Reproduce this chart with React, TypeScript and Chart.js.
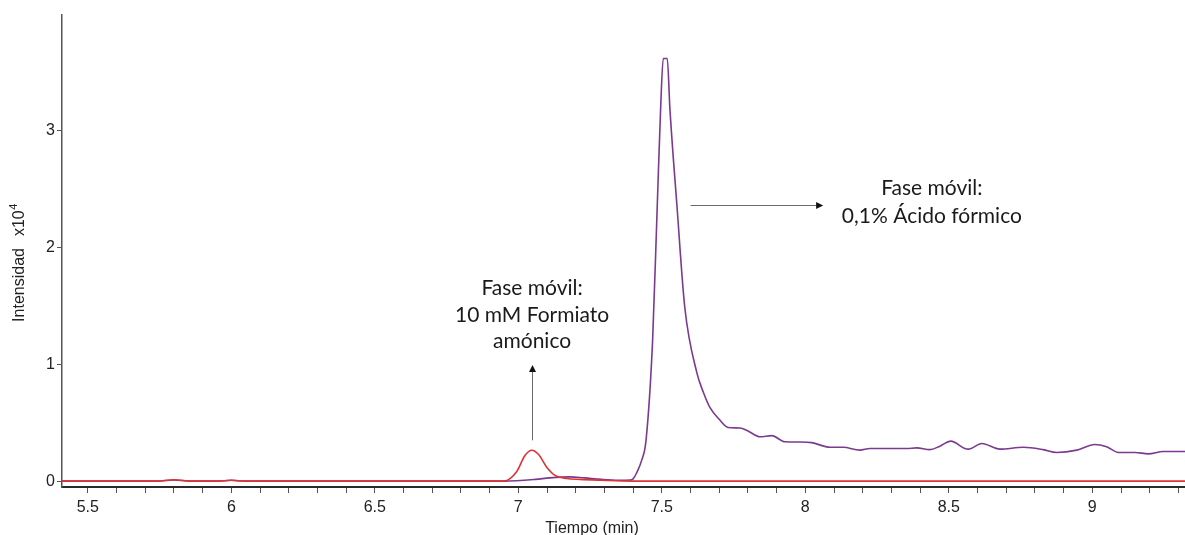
import React, { useEffect, useRef } from 'react';
import { Chart, registerables } from 'chart.js';

Chart.register(...registerables);

// ---- axis ranges ----
const X_MIN = 5.41;
const X_MAX = 9.323;
const Y_MIN = -0.05;
const Y_MAX = 3.993;

// ---- series: 0,1% Ácido fórmico (purple) ----
const purpleTime = [
  5.41, 5.74, 5.8, 5.86, 5.95, 6.0, 6.05, 6.95, 7.06, 7.11, 7.18, 7.23, 7.29, 7.35, 7.39,
  7.4, 7.412, 7.43, 7.445, 7.468, 7.484, 7.496, 7.505, 7.519, 7.528, 7.553, 7.58,
  7.622, 7.645, 7.668, 7.7, 7.731, 7.772, 7.8, 7.842, 7.883, 7.929, 7.98, 8.022, 8.086,
  8.132, 8.19, 8.225, 8.353, 8.388, 8.434, 8.469, 8.507, 8.556, 8.568, 8.615, 8.678,
  8.76, 8.829, 8.876, 8.946, 9.009, 9.05, 9.091, 9.149, 9.195, 9.247, 9.323,
];
const purpleValue = [
  0, 0, 0.01, 0, 0, 0.008, 0, 0, 0.015, 0.028, 0.037, 0.028, 0.015, 0.008, 0.01,
  0.02, 0.07, 0.18, 0.35, 1.21, 2.35, 3.2, 3.62, 3.62, 3.2, 2.35, 1.49,
  0.93, 0.76, 0.63, 0.53, 0.46, 0.455, 0.43, 0.38, 0.39, 0.337, 0.335, 0.33, 0.29,
  0.29, 0.266, 0.28, 0.28, 0.285, 0.27, 0.3, 0.343, 0.28, 0.274, 0.323, 0.274,
  0.29, 0.27, 0.246, 0.266, 0.314, 0.294, 0.246, 0.246, 0.234, 0.254, 0.254,
];

// ---- series: 10 mM Formiato amónico (red) ----
const redTime = [
  5.41, 5.74, 5.8, 5.86, 5.95, 6.0, 6.05, 6.95, 6.994, 7.023, 7.047, 7.07, 7.099, 7.128,
  7.169, 7.215, 7.285, 7.4, 9.323,
];
const redValue = [
  0, 0, 0.012, 0, 0, 0.008, 0, 0, 0.08, 0.22, 0.265, 0.23, 0.12, 0.05,
  0.023, 0.015, 0.008, 0, 0,
];

// ---- ticks ----
const xTickValues = [
  5.5, 5.6, 5.7, 5.8, 5.9, 6.0, 6.1, 6.2, 6.3, 6.4, 6.5, 6.6, 6.7, 6.8, 6.9, 7.0, 7.1, 7.2,
  7.3, 7.4, 7.5, 7.6, 7.7, 7.8, 7.9, 8.0, 8.1, 8.2, 8.3, 8.4, 8.5, 8.6, 8.7, 8.8, 8.9, 9.0,
  9.1, 9.2, 9.3,
];
const xLabelValues = [5.5, 6, 6.5, 7, 7.5, 8, 8.5, 9];
const xLabelTexts = ['5.5', '6', '6.5', '7', '7.5', '8', '8.5', '9'];
const yTickValues = [0, 1, 2, 3];
const yTickTexts = ['0', '1', '2', '3'];

// ---- texts ----
const xTitle = 'Tiempo (min)';
const yTitleMain = 'Intensidad';
const yTitleUnit = 'x10';
const yTitleExp = '4';
const annot1Lines = ['Fase móvil:', '10 mM Formiato', 'amónico'];
const annot1LineValues = [1.655, 1.425, 1.195];
const annot1X = 7.048;
const annot1Arrow = [0.35, 0.995]; // from, to (y values)
const annot2Lines = ['Fase móvil:', '0,1% Ácido fórmico'];
const annot2LineValues = [2.51, 2.27];
const annot2X = 8.441;
const annot2Arrow = [7.6, 8.062]; // from, to (x values)
const annot2ArrowY = 2.365;

const TICK_FONT = 'Liberation Sans, Arial, sans-serif';
const NOTE_FONT = 'Lato, "Open Sans", sans-serif';

const toPoints = (t: number[], v: number[]) => t.map((x, i) => ({ x, y: v[i] }));

const drawArrowHead = (ctx: CanvasRenderingContext2D, x: number, y: number, dir: 'up' | 'right') => {
  ctx.beginPath();
  if (dir === 'up') {
    ctx.moveTo(x, y);
    ctx.lineTo(x - 3.5, y + 7);
    ctx.lineTo(x + 3.5, y + 7);
  } else {
    ctx.moveTo(x, y);
    ctx.lineTo(x - 7, y - 3.5);
    ctx.lineTo(x - 7, y + 3.5);
  }
  ctx.closePath();
  ctx.fill();
};

const annotationPlugin = {
  id: 'annotations',
  afterDraw(chart: any) {
    const { ctx, scales } = chart;
    const x = scales.x;
    const y = scales.y;
    ctx.save();

    // arrows
    ctx.strokeStyle = '#6b6b6b';
    ctx.fillStyle = '#111';
    ctx.lineWidth = 1;
    const a1x = Math.round(x.getPixelForValue(annot1X)) + 0.5;
    const a1y0 = y.getPixelForValue(annot1Arrow[0]);
    const a1y1 = y.getPixelForValue(annot1Arrow[1]);
    ctx.beginPath();
    ctx.moveTo(a1x, a1y0);
    ctx.lineTo(a1x, a1y1 + 6);
    ctx.stroke();
    drawArrowHead(ctx, a1x, a1y1, 'up');

    const a2y = Math.round(y.getPixelForValue(annot2ArrowY)) + 0.5;
    const a2x0 = x.getPixelForValue(annot2Arrow[0]);
    const a2x1 = x.getPixelForValue(annot2Arrow[1]);
    ctx.beginPath();
    ctx.moveTo(a2x0, a2y);
    ctx.lineTo(a2x1 - 6, a2y);
    ctx.stroke();
    drawArrowHead(ctx, a2x1, a2y, 'right');

    // annotation texts
    ctx.fillStyle = '#1a1a1a';
    ctx.font = `21px ${NOTE_FONT}`;
    ctx.textAlign = 'center';
    ctx.textBaseline = 'middle';
    annot1Lines.forEach((s, i) => {
      ctx.fillText(s, x.getPixelForValue(annot1X), y.getPixelForValue(annot1LineValues[i]));
    });
    annot2Lines.forEach((s, i) => {
      ctx.fillText(s, x.getPixelForValue(annot2X), y.getPixelForValue(annot2LineValues[i]));
    });

    // x title
    ctx.fillStyle = '#222';
    ctx.font = `16px ${TICK_FONT}`;
    ctx.fillText(xTitle, 592, 529);

    // y title (rotated) with superscript
    ctx.translate(20, 263);
    ctx.rotate(-Math.PI / 2);
    ctx.font = `16px ${TICK_FONT}`;
    const wMain = ctx.measureText(yTitleMain).width;
    const gap = 12;
    const wUnit = ctx.measureText(yTitleUnit).width;
    ctx.font = `11px ${TICK_FONT}`;
    const wExp = ctx.measureText(yTitleExp).width;
    const total = wMain + gap + wUnit + wExp;
    let cx = -total / 2;
    ctx.textAlign = 'left';
    ctx.font = `16px ${TICK_FONT}`;
    ctx.fillText(yTitleMain, cx, 0);
    cx += wMain + gap;
    ctx.fillText(yTitleUnit, cx, 0);
    cx += wUnit;
    ctx.font = `11px ${TICK_FONT}`;
    ctx.fillText(yTitleExp, cx + 0.5, -6);
    ctx.restore();
  },
};

export default function App() {
  const canvasRef = useRef<HTMLCanvasElement | null>(null);

  useEffect(() => {
    document.body.style.margin = '0';
    const canvas = canvasRef.current;
    if (!canvas) return;
    const chart = new Chart(canvas, {
      type: 'line',
      data: {
        datasets: [
          {
            label: '10 mM Formiato amónico',
            data: toPoints(redTime, redValue),
            borderColor: '#dc3434',
            borderWidth: 1.6,
            pointRadius: 0,
            fill: false,
            cubicInterpolationMode: 'monotone',
          },
          {
            label: '0,1% Ácido fórmico',
            data: toPoints(purpleTime, purpleValue),
            borderColor: '#7b3a8e',
            borderWidth: 1.6,
            pointRadius: 0,
            fill: false,
            cubicInterpolationMode: 'monotone',
          },
        ],
      },
      options: {
        animation: false,
        responsive: false,
        devicePixelRatio: 1,
        layout: { padding: { top: 15, right: 0, left: 0, bottom: 0 } },
        plugins: {
          legend: { display: false },
          tooltip: { enabled: false },
          title: { display: false },
        },
        scales: {
          x: {
            type: 'linear',
            min: X_MIN,
            max: X_MAX,
            afterBuildTicks: (s: any) => {
              s.ticks = xTickValues.map((v) => ({ value: v }));
            },
            afterFit: (s: any) => {
              s.height = 48;
            },
            border: { display: true, color: '#2a2a2a', width: 2 },
            grid: {
              display: true,
              drawOnChartArea: false,
              drawTicks: true,
              tickLength: 6,
              color: '#555',
              lineWidth: 1,
            },
            ticks: {
              autoSkip: false,
              maxRotation: 0,
              minRotation: 0,
              padding: 5,
              color: '#222',
              font: { family: TICK_FONT, size: 16 },
              callback: (v: any) => {
                const i = xLabelValues.findIndex((l) => Math.abs(l - Number(v)) < 1e-6);
                return i >= 0 ? xLabelTexts[i] : '';
              },
            },
          },
          y: {
            type: 'linear',
            min: Y_MIN,
            max: Y_MAX,
            afterBuildTicks: (s: any) => {
              s.ticks = yTickValues.map((v) => ({ value: v }));
            },
            afterFit: (s: any) => {
              s.width = 62;
            },
            border: { display: true, color: '#555', width: 1.5 },
            grid: {
              display: true,
              drawOnChartArea: false,
              drawTicks: true,
              tickLength: 5,
              color: '#555',
              lineWidth: 1,
            },
            ticks: {
              padding: 2,
              color: '#222',
              font: { family: TICK_FONT, size: 16 },
              callback: (v: any) => {
                const i = yTickValues.findIndex((l) => Math.abs(l - Number(v)) < 1e-6);
                return i >= 0 ? yTickTexts[i] : '';
              },
            },
          },
        },
      },
      plugins: [annotationPlugin],
    } as any);
    return () => chart.destroy();
  }, []);

  return (
    <div style={{ position: 'absolute', left: 0, top: 0, width: 1185, height: 535, background: '#fff' }}>
      <canvas ref={canvasRef} width={1185} height={535} style={{ width: 1185, height: 535, display: 'block' }} />
    </div>
  );
}
